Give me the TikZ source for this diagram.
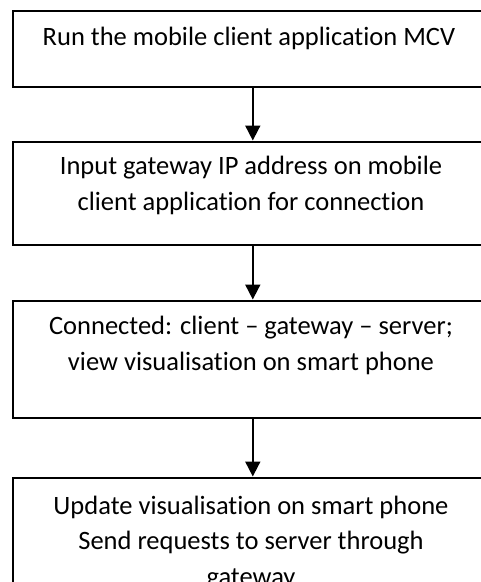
\documentclass[tikz,border=0pt]{standalone}
\usepackage{fontspec}
\setmainfont{Carlito}[Ligatures=NoCommon]
\usetikzlibrary{arrows.meta}

\begin{document}
\begin{tikzpicture}[x=1pt,y=-1pt,
  stepbox/.style={draw=black, line width=1.6pt, inner sep=0pt, anchor=north west,
    minimum width=480pt},
  % anchor=base sits on the last line of a multi-line text
  steptext/.style={anchor=base, inner sep=0pt, align=center,
    font=\fontsize{26.5}{35.5}\selectfont},
  flow/.style={line width=1.8pt, -{Triangle[length=15pt,width=15pt]}, shorten >=0.5pt}
]
\useasboundingbox (0,0) rectangle (481,582);

% process boxes (they run past the right margin)
\node[stepbox, minimum height=76pt]  (b1) at (12,10)  {};
\node[stepbox, minimum height=103pt] (b2) at (12,141) {};
\node[stepbox, minimum height=117pt] (b3) at (12,300) {};
\node[stepbox, minimum height=160pt] (b4) at (12,477) {};

% step texts
\node[steptext] (t1) at (249,45)  {Run the mobile client application MCV};
\node[steptext] (t2) at (251,210) {Input gateway IP address on mobile\\client application for connection};
\node[steptext] (t3) at (251,370) {Connected: client – gateway – server;\\view visualisation on smart phone};
\node[steptext] (t4) at (251,585) {Update visualisation on smart phone\\Send requests to server through\\gateway};

% connectors
\draw[flow] (b1.south) -- (b2.north);
\draw[flow] (b2.south) -- (b3.north);
\draw[flow] (b3.south) -- (b4.north);
\end{tikzpicture}
\end{document}
